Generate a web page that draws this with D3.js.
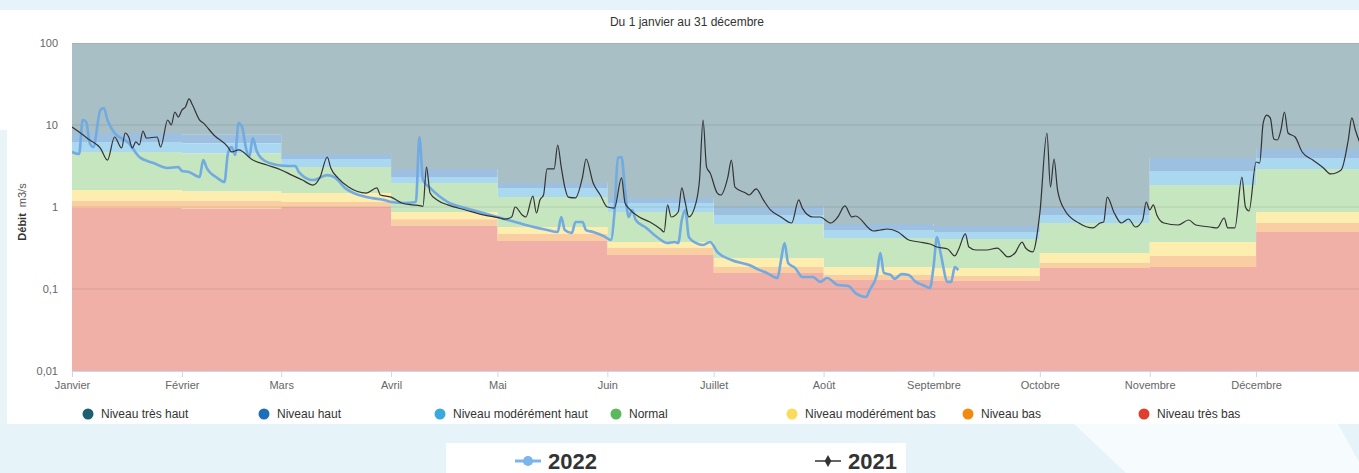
<!DOCTYPE html>
<html>
<head>
<meta charset="utf-8">
<script src="https://d3js.org/d3.v7.min.js"></script>
<style>
  body { margin: 0; background: #e6f3f9; }
  svg { display: block; font-family: "Liberation Sans", Arial, sans-serif; }
</style>
</head>
<body>
<svg id="chart" width="1359" height="473"></svg>
<script>
// mois (étiquettes de l'axe X)
const moisNoms = ["Janvier", "Février", "Mars", "Avril", "Mai", "Juin", "Juillet", "Août", "Septembre", "Octobre", "Novembre", "Décembre"];

// seuils mensuels (m3/s) entre les niveaux
const seuilTresBas = [0.97, 0.95, 1.0, 0.59, 0.385, 0.26, 0.157, 0.129, 0.125, 0.18, 0.186, 0.495];
const seuilBas = [1.18, 1.18, 1.15, 0.71, 0.47, 0.316, 0.185, 0.148, 0.144, 0.207, 0.253, 0.638];
const seuilModBas = [1.61, 1.55, 1.48, 0.87, 0.57, 0.374, 0.238, 0.186, 0.18, 0.275, 0.374, 0.87];
const seuilNormal = [4.69, 4.5, 3.07, 1.96, 1.32, 0.87, 0.62, 0.419, 0.407, 0.638, 1.85, 2.9];
const seuilModHaut = [6.2, 6.0, 3.84, 2.32, 1.70, 1.12, 0.80, 0.524, 0.495, 0.80, 2.75, 3.96];
const seuilHaut = [7.99, 7.6, 4.43, 2.91, 1.96, 1.29, 1.0, 0.62, 0.586, 0.97, 3.96, 5.1];

// débits 2021 (jour de l'année, valeur)
const jours2021 = [0,2,5,8,10,12,14,15,16,17,18,19,20,21,24,25,27,28,29,30,31,32,33,34,36,37,40,44,45,47,51,55,59,62,65,68,70,72,73,75,78,83,86,87,90,93,96,98,99,100,101,103,106,111,116,121,122,124,125,127,128,130,131,132,133,134,136,137,138,139,140,142,144,145,147,149,151,153,155,156,157,160,163,166,167,168,169,171,172,173,174,176,177,178,179,180,182,183,185,186,187,190,191,193,195,197,200,203,205,206,209,211,214,216,218,220,221,226,228,230,233,236,239,242,244,247,249,250,252,253,255,258,261,264,266,268,269,271,273,275,276,277,278,280,284,288,290,291,292,294,296,298,300,302,303,304,305,306,308,312,315,317,321,323,325,326,328,330,331,332,334,335,336,337,338,339,340,341,342,343,345,347,350,353,355,358,360,361,362,364];
const debit2021 = [9.46,8.22,6.56,5.24,3.74,7.14,5.24,7.99,7.14,5.24,6.21,5.70,8.45,6.94,7.14,5.39,11.5,10,14.4,12.5,15.2,16.6,20.8,17.5,11.5,10.6,7.55,5.39,4.69,4.96,3.74,3.25,2.83,2.45,2.13,1.85,2.32,4.07,2.99,2.26,1.75,1.48,1.71,1.40,1.32,1.12,1.06,1.04,1.02,3.07,1.48,1.22,1.06,0.92,0.80,0.73,0.71,0.755,1.0,0.80,0.755,1.36,0.845,1.22,1.40,2.91,2.91,5.70,3.07,1.75,1.32,1.29,2.32,3.85,1.96,1.40,1.0,0.97,2.26,1.12,0.97,0.755,0.656,0.539,0.496,1.06,0.755,0.869,1.71,1.12,0.755,1.12,2.13,11.5,3.07,2.60,1.48,1.40,2.32,3.74,1.75,1.48,1.40,1.66,1.22,0.92,0.755,0.638,1.22,0.97,0.755,0.755,0.638,0.755,1.03,0.755,0.777,0.51,0.524,0.539,0.496,0.396,0.374,0.354,0.325,0.307,0.253,0.299,0.469,0.325,0.299,0.299,0.316,0.246,0.275,0.374,0.316,0.283,0.845,7.99,1.75,3.85,1.61,0.92,0.638,0.555,0.638,0.656,1.32,0.845,0.638,0.714,0.57,0.694,1.15,0.92,1.06,0.80,0.638,0.603,0.694,0.603,0.57,0.555,0.734,0.555,0.555,2.32,1.0,0.894,3.54,3.44,10.6,13.2,12.2,6.75,6.56,8.69,14.4,7.99,7.14,4.69,3.74,2.99,2.53,2.83,6.56,12.2,8.69,5.0];

// débits 2022
const jours2022 = [0,2,3,4,5,6,8,9,10,12,16,19,23,27,30,31,33,36,37,38,41,43,44,45,46,47,48,49,50,51,52,54,58,61,63,64,68,72,74,77,83,88,90,94,97,98,99,101,106,111,116,122,128,134,137,138,139,141,142,144,145,147,150,152,153,154,155,156,157,158,159,162,165,168,170,171,172,173,174,176,178,180,182,186,191,194,196,199,200,201,202,204,206,209,211,213,216,219,221,224,225,227,228,229,231,232,234,236,238,240,242,243,244,245,247,248,249,250];
const debit2022 = [4.69,4.43,11.5,10.9,6.03,5.39,15.2,16.1,11.5,7.99,6.03,4.07,3.44,2.99,3.07,2.75,2.67,2.32,3.74,2.99,2.26,2.02,4.55,5.39,4.31,10.6,9.46,5.39,4.07,6.94,4.96,3.74,3.25,3.16,3.16,2.67,2.13,2.45,2.32,1.71,1.32,1.22,1.15,1.12,1.15,7.14,2.13,1.71,1.15,0.97,0.845,0.714,0.603,0.524,0.496,0.755,0.524,0.482,0.656,0.656,0.524,0.496,0.442,0.396,0.845,3.96,4.07,1.61,0.755,0.92,0.694,0.555,0.43,0.364,0.374,0.364,0.694,0.92,0.43,0.364,0.344,0.374,0.283,0.226,0.196,0.17,0.157,0.136,0.226,0.364,0.207,0.18,0.14,0.14,0.122,0.136,0.112,0.109,0.089,0.080,0.097,0.148,0.275,0.157,0.148,0.133,0.152,0.148,0.122,0.112,0.103,0.185,0.43,0.275,0.122,0.122,0.185,0.17];

const yTicks = [0.01, 0.1, 1, 10, 100];

const niveaux = [
  { nom: "Niveau très haut", fond: "#a7bfc5", puce: "#1d5f6e" },
  { nom: "Niveau haut", fond: "#9dc0e0", puce: "#1f6fb8" },
  { nom: "Niveau modérément haut", fond: "#aad8f0", puce: "#3aa9de" },
  { nom: "Normal", fond: "#c6e6bf", puce: "#5cb85c" },
  { nom: "Niveau modérément bas", fond: "#fdeeb0", puce: "#fddb5a" },
  { nom: "Niveau bas", fond: "#f9cea2", puce: "#f28a12" },
  { nom: "Niveau très bas", fond: "#f0b0a8", puce: "#df3f2e" }
];

const svg = d3.select("#chart");
const W = 1359, H = 473;
const mLeft = 72, mTop = 43, mBottom = 371, mRight = 1366;

// fond et décor
svg.append("rect").attr("width", W).attr("height", H).attr("fill", "#e6f3f9");
svg.append("polygon")
  .attr("points", "1074,424 1338,424 1359,462 1359,473 1126,473")
  .attr("fill", "#f6fbfd");
svg.append("rect").attr("x", 0).attr("y", 10).attr("width", W).attr("height", 414).attr("fill", "#fff");
svg.append("rect").attr("x", 0).attr("y", 130).attr("width", 7).attr("height", 294).attr("fill", "#e9f4f9");

const debut = new Date(2022, 0, 1);
const fin = new Date(2023, 0, 1);
const jour = d => d3.timeDay.offset(debut, d);

const x = d3.scaleTime().domain([debut, fin]).range([mLeft, mRight]);
const y = d3.scaleLog().domain([0.01, 100]).range([mBottom, mTop]);

svg.append("defs").append("clipPath").attr("id", "clip")
  .append("rect").attr("x", mLeft).attr("y", mTop).attr("width", mRight - mLeft).attr("height", mBottom - mTop);

// bandes de niveaux (en escalier par mois)
const moisDebuts = d3.range(12).map(i => new Date(2022, i, 1)).concat([fin]);
const limites = [
  moisDebuts.map(() => 100),
  seuilHaut, seuilModHaut, seuilNormal, seuilModBas, seuilBas, seuilTresBas,
  moisDebuts.map(() => 0.01)
];
const ext = arr => arr.concat([arr[arr.length - 1]]).slice(0, 13);

const bandes = svg.append("g").attr("clip-path", "url(#clip)");
niveaux.forEach((n, i) => {
  const hi = ext(limites[i]), lo = ext(limites[i + 1]);
  const pts = moisDebuts.map((m, k) => ({ d: m, hi: hi[k], lo: lo[k] }));
  bandes.append("path")
    .datum(pts)
    .attr("fill", n.fond)
    .attr("d", d3.area().curve(d3.curveStepAfter)
      .x(p => x(p.d)).y0(p => y(p.lo)).y1(p => y(p.hi)));
});

// grille horizontale
svg.append("g").selectAll("line")
  .data([0.1, 1, 10])
  .join("line")
  .attr("x1", mLeft).attr("x2", mRight)
  .attr("y1", d => y(d)).attr("y2", d => y(d))
  .attr("stroke", "#000").attr("stroke-opacity", 0.1);
svg.append("line").attr("x1", mLeft).attr("x2", mRight).attr("y1", mTop + 0.5).attr("y2", mTop + 0.5)
  .attr("stroke", "#9fb3b8");

// axes
const ax = svg.append("g")
  .attr("transform", `translate(0,${mBottom})`)
  .call(d3.axisBottom(x).tickValues(moisDebuts.slice(0, 12)).tickSize(6).tickPadding(4)
    .tickFormat(d => moisNoms[d.getMonth()]));
ax.select(".domain").attr("stroke", "#ccd6eb");
ax.selectAll(".tick line").attr("stroke", "#ccd6eb");
ax.selectAll("text").attr("fill", "#666").attr("font-size", 11).attr("font-family", "Liberation Sans, Arial, sans-serif");

const ay = svg.append("g")
  .attr("transform", `translate(${mLeft},0)`)
  .call(d3.axisLeft(y).tickValues(yTicks).tickSize(0).tickPadding(14)
    .tickFormat(d => String(d).replace(".", ",")));
ay.select(".domain").remove();
ay.selectAll("text").attr("fill", "#666").attr("font-size", 11).attr("font-family", "Liberation Sans, Arial, sans-serif");

// titre de l'axe Y
const yt = svg.append("text")
  .attr("transform", "translate(26,212) rotate(-90)")
  .attr("text-anchor", "middle").attr("font-size", 11).attr("fill", "#333");
yt.append("tspan").attr("font-weight", "bold").text("Débit");
yt.append("tspan").attr("dx", 6).attr("fill", "#555").text("m3/s");

// titre
svg.append("text").attr("x", 687).attr("y", 26).attr("text-anchor", "middle")
  .attr("font-size", 12).attr("fill", "#333").text("Du 1 janvier au 31 décembre");

// courbes
const ligne = d3.line().curve(d3.curveMonotoneX)
  .x(p => x(jour(p[0]))).y(p => y(p[1]));
const courbes = svg.append("g").attr("clip-path", "url(#clip)");
courbes.append("path")
  .datum(d3.zip(jours2022, debit2022))
  .attr("fill", "none").attr("stroke", "#72aae2").attr("stroke-width", 2.6)
  .attr("stroke-linejoin", "round").attr("d", ligne);
courbes.append("path")
  .datum(d3.zip(jours2021, debit2021))
  .attr("fill", "none").attr("stroke", "#333").attr("stroke-width", 1.2)
  .attr("stroke-linejoin", "round").attr("d", ligne);

// légende des niveaux
const leg = svg.append("g").selectAll("g").data(niveaux).join("g")
  .attr("transform", (d, i) => `translate(${88 + i * 176},414)`);
leg.append("circle").attr("r", 5.5).attr("fill", d => d.puce);
leg.append("text").attr("x", 13).attr("dy", "0.35em").attr("font-size", 12)
  .attr("fill", "#333").text(d => d.nom);

// légende des années
svg.append("rect").attr("x", 446).attr("y", 443).attr("width", 460).attr("height", 40).attr("fill", "#fff");
const annees = [
  { nom: "2022", couleur: "#7cb5ec", x: 515, marque: "circle" },
  { nom: "2021", couleur: "#333", x: 815, marque: "diamond" }
];
const la = svg.append("g").selectAll("g").data(annees).join("g")
  .attr("transform", d => `translate(${d.x},461)`);
la.append("line").attr("x1", 0).attr("x2", 26)
  .attr("stroke", d => d.couleur).attr("stroke-width", d => d.nom === "2022" ? 3 : 1.5);
la.append("path")
  .attr("transform", "translate(13,0)")
  .attr("d", d => d3.symbol().type(d.marque === "circle" ? d3.symbolCircle : d3.symbolDiamond)
    .size(d.marque === "circle" ? 80 : 40)())
  .attr("fill", d => d.couleur);
la.append("text").attr("x", 33).attr("dy", "0.36em")
  .attr("font-size", 22).attr("font-weight", "bold").attr("fill", "#333")
  .text(d => d.nom);
</script>
</body>
</html>
